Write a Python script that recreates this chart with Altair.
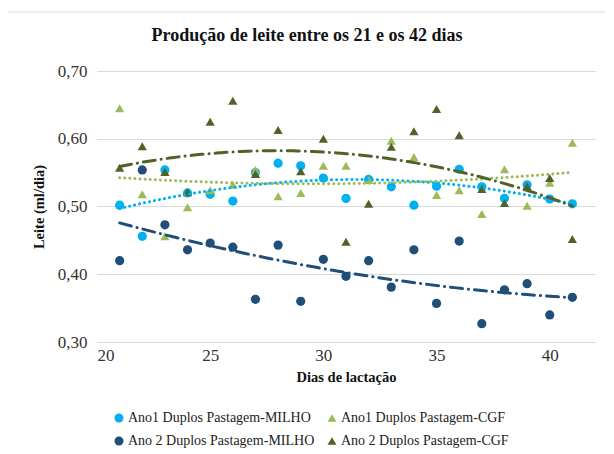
import altair as alt
import pandas as pd

days = list(range(21, 42))

ano1_milho = [0.502, 0.456, 0.554, 0.520, 0.518, 0.508, 0.550, 0.564, 0.560, 0.542, 0.512,
              0.540, 0.529, 0.502, 0.530, 0.555, 0.529, 0.512, 0.532, 0.511, 0.504]
ano1_cgf = [0.645, 0.518, 0.456, 0.499, 0.524, 0.532, 0.554, 0.515, 0.520, 0.560, 0.560,
            0.539, 0.597, 0.573, 0.517, 0.524, 0.489, 0.555, 0.501, 0.535, 0.594]
ano2_milho = [0.420, 0.554, 0.473, 0.436, 0.446, 0.440, 0.363, 0.443, 0.360, 0.422, 0.397,
              0.420, 0.381, 0.436, 0.357, 0.449, 0.327, 0.377, 0.386, 0.340, 0.366]
ano2_cgf = [0.557, 0.589, 0.551, 0.521, 0.625, 0.656, 0.548, 0.613, 0.552, 0.600, 0.448,
            0.504, 0.588, 0.611, 0.644, 0.605, 0.526, 0.505, 0.530, 0.542, 0.452]

series_names = ["Ano1 Duplos Pastagem-MILHO", "Ano1 Duplos Pastagem-CGF",
                "Ano 2 Duplos Pastagem-MILHO", "Ano 2 Duplos Pastagem-CGF"]
series_values = [ano1_milho, ano1_cgf, ano2_milho, ano2_cgf]
colors = ["#00B0F0", "#9BBB59", "#1F4E79", "#4F6228"]
shapes = ["circle", "triangle-up", "circle", "triangle-up"]
dashes = [[0.1, 5], [0.1, 5], [12, 6, 0.1, 6], [12, 6, 0.1, 6]]

title_text = "Produção de leite entre os 21 e os 42 dias"

# legend is laid out column by column: order the domain so rows read as in the reference
legend_order = [0, 2, 1, 3]
dom = [series_names[i] for i in legend_order]
col_range = [colors[i] for i in legend_order]
shape_range = [shapes[i] for i in legend_order]

y_ticks = [0.30, 0.35, 0.40, 0.45, 0.50, 0.55, 0.60, 0.65, 0.70]
x_ticks = [20, 25, 30, 35, 40]

rows = []
for name, vals in zip(series_names, series_values):
    for d, v in zip(days, vals):
        rows.append({"dia": d, "leite": v, "serie": name})
df = pd.DataFrame(rows)

SERIF = "Liberation Serif"

x_enc = alt.X("dia:Q", scale=alt.Scale(domain=[20, 42], nice=False),
              axis=alt.Axis(values=x_ticks, title="Dias de lactação", grid=False,
                            domain=False, ticks=False, labelPadding=5, titlePadding=7,
                            labelFont=SERIF, labelFontSize=17, labelColor="#333333",
                            titleFont=SERIF, titleFontSize=14.5, titleFontWeight="bold",
                            titleColor="#111111"))
y_enc = alt.Y("leite:Q", scale=alt.Scale(domain=[0.30, 0.70], nice=False, zero=False),
              axis=alt.Axis(values=y_ticks, title="Leite (ml/dia)", domain=False, ticks=False,
                            labelExpr="replace(format(datum.value, '.2f'), '.', ',')",
                            labelPadding=10, titlePadding=11, gridColor="#D9D9D9",
                            labelFont=SERIF, labelFontSize=17, labelColor="#333333",
                            titleFont=SERIF, titleFontSize=14.5, titleFontWeight="bold",
                            titleColor="#111111"))

one = pd.DataFrame({"t": [title_text]})

frame = alt.Chart(one).mark_rect(
    fillOpacity=0, stroke="#D9D9D9", strokeWidth=1, cornerRadius=2
).encode(x=alt.value(-90), x2=alt.value(530), y=alt.value(-59), y2=alt.value(400))

title = alt.Chart(one).mark_text(
    font=SERIF, fontSize=18, fontWeight="bold", color="#111111", align="center", baseline="middle"
).encode(text="t:N", x=alt.value(210), y=alt.value(-35))

points = alt.Chart(df).mark_point(filled=True, size=85, opacity=1).encode(
    x=x_enc,
    y=y_enc,
    color=alt.Color("serie:N", scale=alt.Scale(domain=dom, range=col_range),
                    legend=alt.Legend(title=None, orient="none", legendX=15, legendY=340,
                                      columns=2, columnPadding=10, rowPadding=9,
                                      labelFont=SERIF, labelFontSize=14, labelColor="#222222",
                                      labelLimit=0, symbolSize=80, labelOffset=2)),
    shape=alt.Shape("serie:N", scale=alt.Scale(domain=dom, range=shape_range)),
)

lines = []
for name, col, dash in zip(series_names, colors, dashes):
    lines.append(
        alt.Chart(df).transform_filter(alt.datum.serie == name)
        .transform_regression("dia", "leite", method="poly", order=2, extent=[21, 41])
        .mark_line(color=col, strokeWidth=3, strokeDash=dash, strokeCap="round")
        .encode(x="dia:Q", y="leite:Q")
    )

chart = alt.layer(frame, title, points, *lines).properties(
    width=498, height=271,
    background="white",
    autosize=alt.AutoSizeParams(type="none"),
    padding={"left": 89, "top": 63, "right": 10, "bottom": 106},
).configure_view(stroke=None)

chart.save("out.html", embed_options={"renderer": "svg", "actions": False})
